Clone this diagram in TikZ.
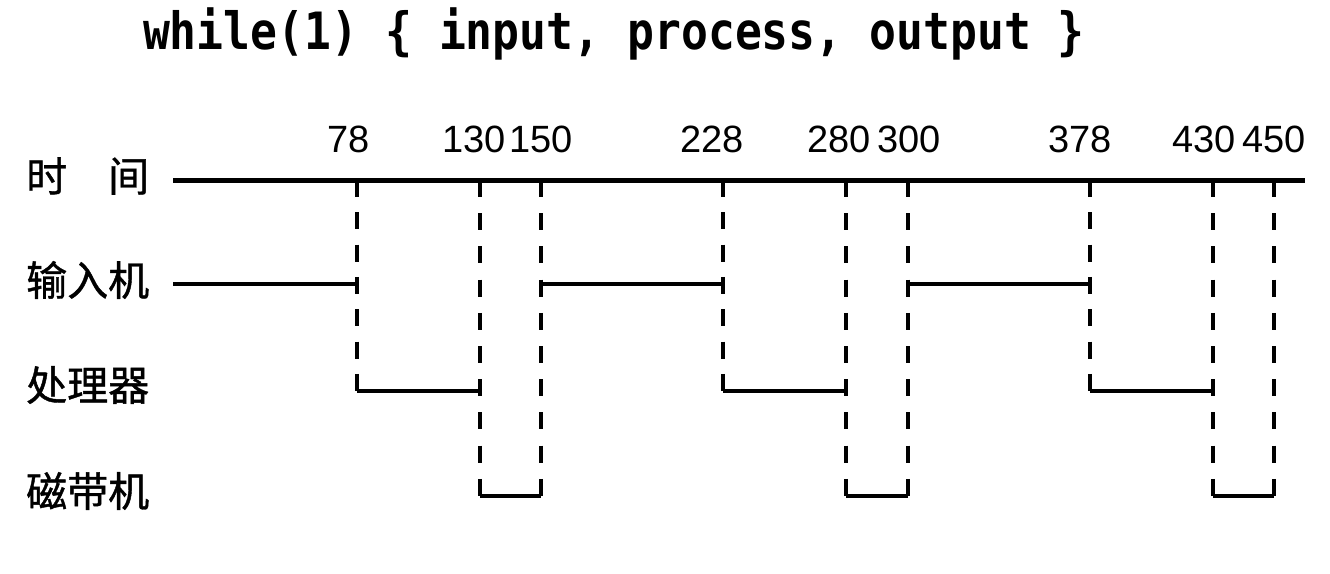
\documentclass[tikz,border=0pt]{standalone}
\usepackage{fontspec}
\setmainfont{Liberation Sans}
\newfontfamily\cjkfont{Noto Sans CJK SC}[FakeBold=1]
\newfontfamily\codefont{DejaVu Sans Mono}
\begin{document}
\begin{tikzpicture}[x=1pt,y=-1pt,
  titlelab/.style={anchor=base,inner sep=0pt,font=\codefont\bfseries\fontsize{44.7}{50}\selectfont},
  rowlab/.style={anchor=west,inner sep=0pt,font=\cjkfont\fontsize{41}{46}\selectfont},
  numlab/.style={anchor=base,inner sep=0pt,font=\fontsize{38}{44}\selectfont},
  axisline/.style={line width=5pt},
  rowline/.style={line width=3.5pt},
  tapeline/.style={line width=4.5pt},
  dashproc/.style={line width=4pt,dash pattern=on 17pt off 15.3pt},
  dashtape/.style={line width=4pt,dash pattern=on 17pt off 16.2pt}]
\useasboundingbox (0,0) rectangle (1330,573);
\fill[white] (0,0) rectangle (1330,573);

\node[titlelab] (title) at (614,49) {\scalebox{1}[1.15]{while(1) \{ input, process, output \}}};

\node[rowlab] (lt) at (26,176) {时　间};
\node[rowlab] (lin) at (26,280) {输入机};
\node[rowlab] (lpr) at (26,385) {处理器};
\node[rowlab] (ltp) at (26,491) {磁带机};

\node[numlab] (n78) at (349,152) {78};
\node[numlab] (n130) at (474,152) {130};
\node[numlab] (n150) at (541,152) {150};
\node[numlab] (n228) at (712,152) {228};
\node[numlab] (n280) at (839,152) {280};
\node[numlab] (n300) at (909,152) {300};
\node[numlab] (n378) at (1080,152) {378};
\node[numlab] (n430) at (1204,152) {430};
\node[numlab] (n450) at (1274,152) {450};

% axis
\coordinate (ax0) at (173,180);
\coordinate (ax1) at (1305,180);
% time points on axis
\coordinate (t78) at (357,180);
\coordinate (t130) at (480,180);
\coordinate (t150) at (541,180);
\coordinate (t228) at (723,180);
\coordinate (t280) at (846,180);
\coordinate (t300) at (908,180);
\coordinate (t378) at (1090,180);
\coordinate (t430) at (1213,180);
\coordinate (t450) at (1274,180);
% input row
\coordinate (in0) at (173,284);
\coordinate (i78) at (357,284);
\coordinate (i150) at (541,284);
\coordinate (i228) at (723,284);
\coordinate (i300) at (908,284);
\coordinate (i378) at (1090,284);
% processor row
\coordinate (p78) at (357,391);
\coordinate (p130) at (480,391);
\coordinate (p228) at (723,391);
\coordinate (p280) at (846,391);
\coordinate (p378) at (1090,391);
\coordinate (p430) at (1213,391);
% tape row
\coordinate (b130) at (480,496);
\coordinate (b150) at (541,496);
\coordinate (b280) at (846,496);
\coordinate (b300) at (908,496);
\coordinate (b430) at (1213,496);
\coordinate (b450) at (1274,496);

% dashed verticals
\draw[dashproc] (t78) -- (p78);
\draw[dashtape] (t130) -- (b130);
\draw[dashtape] (t150) -- (b150);
\draw[dashproc] (t228) -- (p228);
\draw[dashtape] (t280) -- (b280);
\draw[dashtape] (t300) -- (b300);
\draw[dashproc] (t378) -- (p378);
\draw[dashtape] (t430) -- (b430);
\draw[dashtape] (t450) -- (b450);

% axis line
\draw[axisline] (ax0) -- (ax1);

% input segments
\draw[rowline] (in0) -- (i78);
\draw[rowline] (i150) -- (i228);
\draw[rowline] (i300) -- (i378);
% processor segments
\draw[rowline] (p78) -- (p130);
\draw[rowline] (p228) -- (p280);
\draw[rowline] (p378) -- (p430);
% tape segments
\draw[tapeline] (b130) -- (b150);
\draw[tapeline] (b280) -- (b300);
\draw[tapeline] (b430) -- (b450);
\end{tikzpicture}
\end{document}
